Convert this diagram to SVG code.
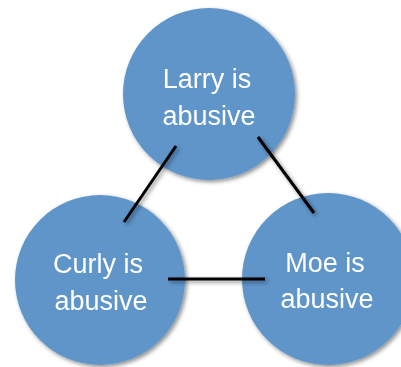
<svg xmlns="http://www.w3.org/2000/svg" width="401" height="367" viewBox="0 0 401 367">
  <defs>
    <filter id="shade" x="-20%" y="-20%" width="140%" height="140%">
      <feGaussianBlur in="SourceAlpha" stdDeviation="2"/>
      <feOffset dx="1.5" dy="2" result="b"/>
      <feComponentTransfer><feFuncA type="linear" slope="0.45"/></feComponentTransfer>
      <feMerge><feMergeNode/><feMergeNode in="SourceGraphic"/></feMerge>
    </filter>
  </defs>
  <style>
    .node circle { fill: #5E95C9; }
    .node text { fill: #ffffff; font-family: "Liberation Sans", Arial, sans-serif; font-size: 27px; text-anchor: middle; }
    .edges line { stroke: #000000; stroke-width: 3; }
  </style>
  <rect width="401" height="367" fill="#ffffff"/>
  <g id="larry" class="node" filter="url(#shade)">
    <circle cx="209" cy="94" r="86"/>
    <text x="207" y="88">Larry is</text>
    <text x="209" y="125">abusive</text>
  </g>
  <g id="curly" class="node" filter="url(#shade)">
    <circle cx="100" cy="280" r="85"/>
    <text x="98" y="273">Curly is</text>
    <text x="101" y="310">abusive</text>
  </g>
  <g id="moe" class="node" filter="url(#shade)">
    <circle cx="328" cy="279" r="86"/>
    <text x="325" y="272">Moe is</text>
    <text x="327" y="308">abusive</text>
  </g>
  <g id="connectors" class="edges" filter="url(#shade)">
    <line x1="176" y1="146" x2="124" y2="222"/>
    <line x1="258" y1="137" x2="314" y2="213"/>
    <line x1="168" y1="279" x2="265" y2="279"/>
  </g>
</svg>
